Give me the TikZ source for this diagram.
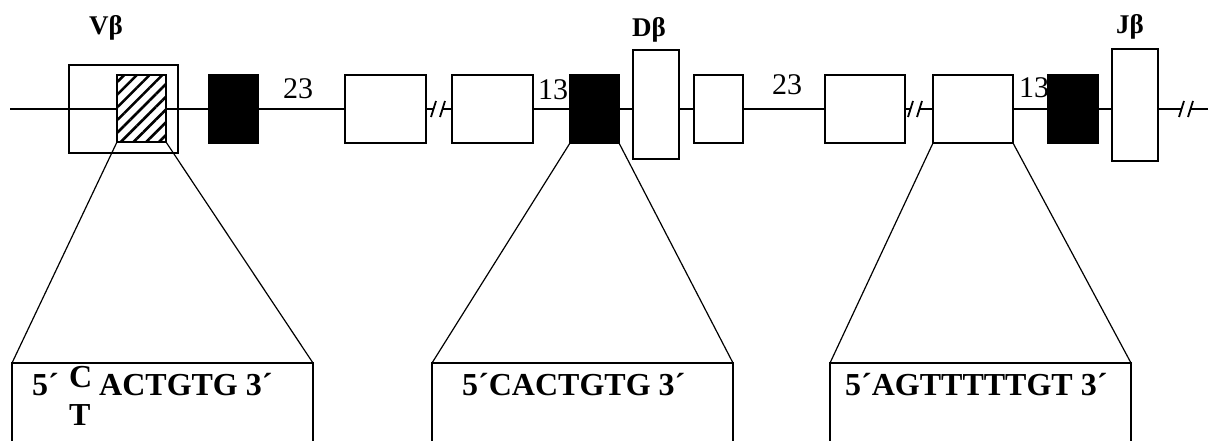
\documentclass[tikz,border=0pt]{standalone}
\usepackage{fontspec}
\setmainfont{Liberation Serif}
\usetikzlibrary{patterns.meta}
\begin{document}
\begin{tikzpicture}[x=1pt,y=-1pt,
  dims/.style 2 args={minimum width=#1pt,minimum height=#2pt},
  seg/.style={draw,line width=2pt,inner sep=0pt,outer sep=0pt},
  exon/.style={seg,fill=white},
  rss/.style={seg,fill=black},
  hatched/.style={seg,preaction={fill=white},pattern={Lines[angle=45,distance=9pt,line width=2.6pt]}},
  backbone/.style={line width=1.8pt},
  fan/.style={line width=1.2pt},
  slash/.style={line width=1.8pt},
  window/.style={inner sep=0pt,outer sep=0pt},
  seqtext/.style={anchor=base west,inner sep=0pt,font=\fontsize{32}{38}\selectfont\bfseries},
  spacer/.style={anchor=base west,inner sep=0pt,font=\fontsize{30}{36}\selectfont},
  genelabel/.style={anchor=base west,inner sep=0pt,font=\fontsize{27}{32}\selectfont\bfseries}]
\useasboundingbox (0,0) rectangle (1209,441);

% backbone with three breaks
\coordinate (start) at (10,109);
\coordinate (end) at (1208,109);
\foreach \n/\cx in {1/438,2/915,3/1186}{
  \coordinate (b\n l) at (\cx-4.5,109);
  \coordinate (b\n r) at (\cx+4.5,109);
}
\draw[backbone] (start) -- (b1l) (b1r) -- (b2l) (b2r) -- (b3l) (b3r) -- (end);
\foreach \cx in {438,915,1186}{
  \draw[slash] (\cx-7,117) -- (\cx-2,101);
  \draw[slash] (\cx+2,117) -- (\cx+7,101);
}

% V segment
\node[seg,dims={109}{88}] (vouter) at (123.5,109) {};
\node[hatched,dims={49}{67}] (vcore) at (141.5,108.5) {};
\node[rss,dims={49}{68}] (rss1) at (233.5,109) {};

% D region
\node[exon,dims={81}{68}] (ea) at (385.5,109) {};
\node[exon,dims={81}{68}] (eb) at (492.5,109) {};
\node[rss,dims={49}{68}] (rss2) at (594.5,109) {};
\node[exon,dims={46}{109}] (dseg) at (656,104.5) {};
\node[exon,dims={49}{68}] (ec) at (718.5,109) {};

% J region
\node[exon,dims={80}{68}] (ed) at (865,109) {};
\node[exon,dims={80}{68}] (ee) at (973,109) {};
\node[rss,dims={50}{68}] (rss3) at (1073,109) {};
\node[exon,dims={46}{112}] (jseg) at (1135,105) {};

% spacer lengths
\node[spacer] (s23a) at (283,99) {23};
\node[spacer] (s13a) at (538,100) {13};
\node[spacer] (s23b) at (772,95) {23};
\node[spacer] (s13b) at (1019,98) {13};

% gene segment labels
\node[genelabel] (lv) at (89,35) {Vβ};
\node[genelabel] (ld) at (632,37) {Dβ};
\node[genelabel] (lj) at (1116,34) {Jβ};

% sequence windows (open at the bottom)
\node[window,dims={301}{78}] (w1) at (162.5,402) {};
\node[window,dims={301}{78}] (w2) at (582.5,402) {};
\node[window,dims={301}{78}] (w3) at (980.5,402) {};
\foreach \w in {w1,w2,w3}{
  \draw[line width=1.8pt] (\w.south west) -- (\w.north west) -- (\w.north east) -- (\w.south east);
}

% zoom-in lines
\draw[fan] (vcore.south west) -- (w1.north west);
\draw[fan] (vcore.south east) -- (w1.north east);
\draw[fan] (rss2.south west) -- (w2.north west);
\draw[fan] (rss2.south east) -- (w2.north east);
\draw[fan] (ee.south west) -- (w3.north west);
\draw[fan] (ee.south east) -- (w3.north east);

% sequences
\node[seqtext] (q1a) at (32,395) {5´};
\node[seqtext] (q1c) at (69,387) {C};
\node[seqtext] (q1t) at (69,425) {T};
\node[seqtext] (q1b) at (99,395) {ACTGTG 3´};
\node[seqtext] (q2) at (462,395) {5´CACTGTG 3´};
\node[seqtext] (q3) at (845,395) {5´AGTTTTTGT 3´};
\end{tikzpicture}
\end{document}
